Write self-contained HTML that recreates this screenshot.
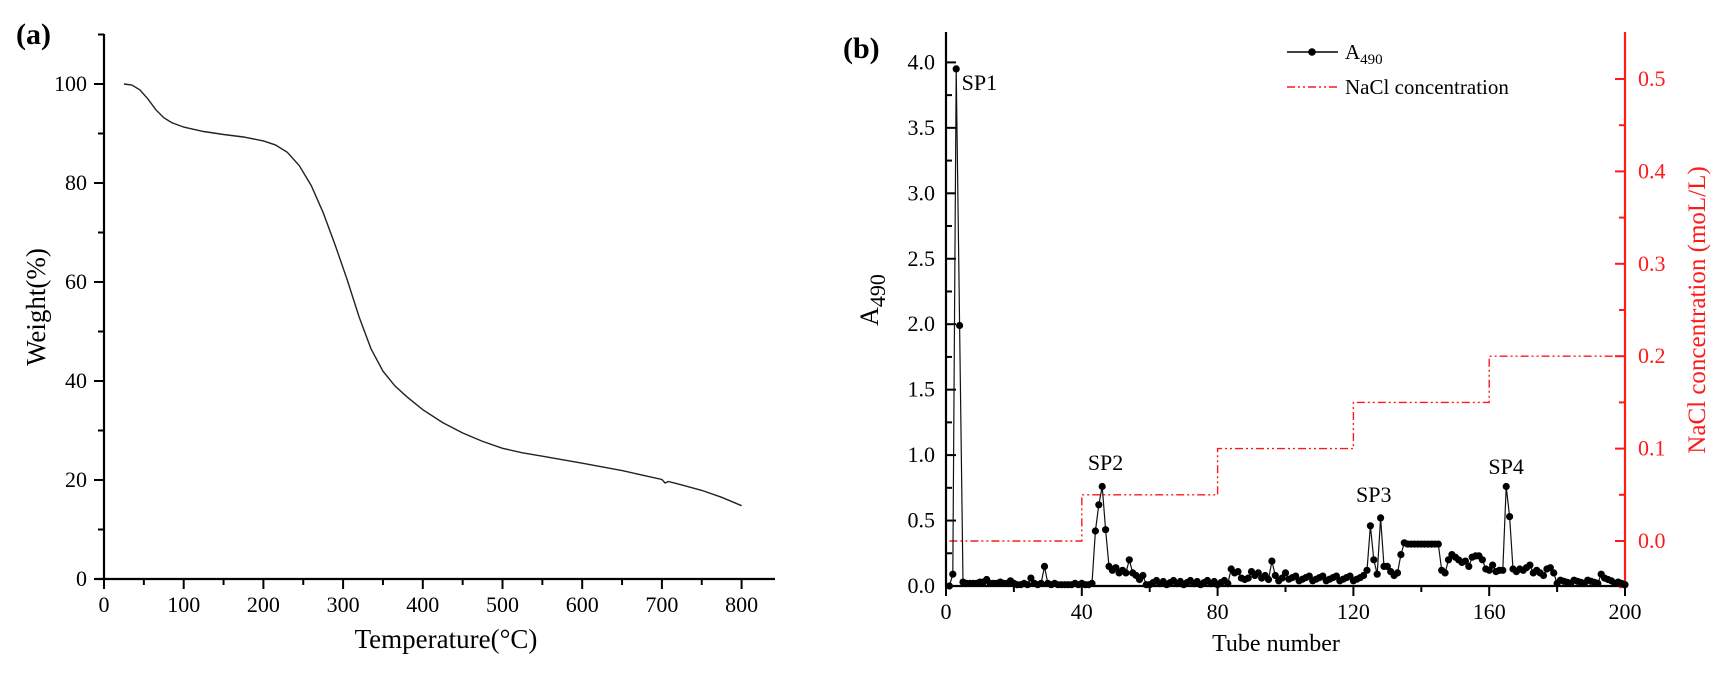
<!DOCTYPE html>
<html><head><meta charset="utf-8"><style>
html,body{margin:0;padding:0;background:#fff;}
svg{display:block;font-family:"Liberation Serif",serif;}
</style></head><body>
<svg id="s" width="1725" height="674" viewBox="0 0 1725 674" xmlns="http://www.w3.org/2000/svg">
<text x="16" y="44" font-size="30" font-weight="bold">(a)</text>
<text x="843" y="58" font-size="30" font-weight="bold">(b)</text>
<g id="a"></g><g id="b"></g>
</svg>
<script>
const NS="http://www.w3.org/2000/svg";
function el(p,t,a,txt){const e=document.createElementNS(NS,t);for(const k in a)e.setAttribute(k,a[k]);if(txt!==undefined)e.textContent=txt;p.appendChild(e);return e;}
// Panel a
const A=document.getElementById('a');
const ax=t=>104+t*0.797, ay=w=>579-w*4.95;
el(A,'line',{x1:104,y1:34,x2:104,y2:580,stroke:'#000','stroke-width':2.2});
el(A,'line',{x1:95,y1:579,x2:775,y2:579,stroke:'#000','stroke-width':2.2});
for(let t=0;t<=800;t+=50){const x=ax(t);const maj=t%100==0;el(A,'line',{x1:x,y1:579,x2:x,y2:maj?589:585,stroke:'#000','stroke-width':2});if(maj)el(A,'text',{x:x,y:612,'font-size':22,'text-anchor':'middle'},t);}
for(let w=0;w<=110;w+=10){const y=ay(w);const maj=w%20==0;el(A,'line',{x1:104,y1:y,x2:maj?94:98,y2:y,stroke:'#000','stroke-width':2});if(maj)el(A,'text',{x:87,y:y+7,'font-size':22,'text-anchor':'end'},w);}
el(A,'text',{x:446,y:648,'font-size':27,'text-anchor':'middle'},'Temperature(°C)');
el(A,'text',{x:0,y:0,'font-size':27,'text-anchor':'middle',transform:'translate(45,307) rotate(-90)'},'Weight(%)');
const tg=[[25,100],[35,99.8],[45,98.8],[55,97],[65,94.8],[75,93.2],[85,92.2],[100,91.3],[125,90.4],[150,89.8],[175,89.3],[200,88.5],[215,87.7],[230,86.2],[245,83.5],[260,79.5],[275,74],[290,67.5],[305,60.5],[320,53],[335,46.5],[350,42],[365,39],[380,36.8],[400,34.2],[425,31.6],[450,29.5],[475,27.8],[500,26.4],[525,25.5],[550,24.8],[600,23.4],[650,21.9],[700,20.1],[704,19.4],[708,19.7],[725,19],[750,17.9],[775,16.5],[800,14.8]];
el(A,'path',{d:'M'+tg.map(p=>ax(p[0]).toFixed(1)+','+ay(p[1]).toFixed(1)).join('L'),fill:'none',stroke:'#222','stroke-width':1.4});
// Panel b
const B=document.getElementById('b');
const bx=t=>946+t*3.395, by=v=>586-v*130.9, ry=c=>541-c*924;
const red='#ff1a1a';
el(B,'line',{x1:946,y1:32,x2:946,y2:587,stroke:'#000','stroke-width':2.2});
el(B,'line',{x1:945,y1:586,x2:1626,y2:586,stroke:'#000','stroke-width':2.2});
el(B,'line',{x1:1625,y1:32,x2:1625,y2:587,stroke:red,'stroke-width':2.2});
for(let t=0;t<=200;t+=20){const x=bx(t);const maj=t%40==0;el(B,'line',{x1:x,y1:586,x2:x,y2:maj?596:592,stroke:'#000','stroke-width':2});if(maj)el(B,'text',{x:x,y:619,'font-size':22,'text-anchor':'middle'},t);}
for(let v=0;v<=4.2;v+=0.25){const y=by(v);const maj=Math.abs(v*2-Math.round(v*2))<1e-6;el(B,'line',{x1:946,y1:y,x2:maj?956:952,y2:y,stroke:'#000','stroke-width':2});if(maj)el(B,'text',{x:935,y:y+7,'font-size':22,'text-anchor':'end'},v.toFixed(1));}
for(let i=-1;i<=10;i++){const c=i*0.05;const y=ry(c);if(y<33)continue;const maj=i%2==0;el(B,'line',{x1:1625,y1:y,x2:maj?1615:1619,y2:y,stroke:red,'stroke-width':2});if(maj)el(B,'text',{x:1638,y:y+7,'font-size':22,fill:red},c.toFixed(1));}
el(B,'text',{x:1276,y:651,'font-size':24,'text-anchor':'middle'},'Tube number');
const al=el(B,'text',{x:0,y:0,'font-size':26,'text-anchor':'middle',transform:'translate(878,300) rotate(-90)'},'A');
el(al,'tspan',{'font-size':22,dy:7},'490');
el(B,'text',{x:0,y:0,'font-size':25,'text-anchor':'middle',fill:red,transform:'translate(1705,310) rotate(-90)'},'NaCl concentration (moL/L)');
// NaCl steps
const st=[[1,0],[40,0],[40,0.05],[80,0.05],[80,0.1],[120,0.1],[120,0.15],[160,0.15],[160,0.2],[200,0.2]];
el(B,'path',{d:'M'+st.map(p=>bx(p[0]).toFixed(1)+','+ry(p[1]).toFixed(1)).join('L'),fill:'none',stroke:red,'stroke-width':1.4,'stroke-dasharray':'8,3,2,3,2,3'});
// A490 data
const d={1:0,2:0.09,3:3.95,4:1.99,5:0.03,6:0.02,7:0.02,8:0.02,9:0.02,10:0.03,11:0.03,12:0.05,13:0.02,14:0.02,15:0.02,16:0.03,17:0.02,18:0.02,19:0.04,20:0.02,21:0.01,22:0.01,23:0.02,24:0.01,25:0.06,26:0.02,27:0.01,28:0.02,29:0.15,30:0.02,31:0.01,32:0.02,33:0.01,34:0.01,35:0.01,36:0.01,37:0.01,38:0.02,39:0.01,40:0.02,41:0.01,42:0.01,43:0.02,44:0.42,45:0.62,46:0.76,47:0.43,48:0.15,49:0.12,50:0.14,51:0.1,52:0.12,53:0.1,54:0.2,55:0.1,56:0.08,57:0.05,58:0.08,59:0.01};
for(let t=60;t<=83;t++)d[t]=0.01+((t*7)%5)*0.008;
Object.assign(d,{84:0.13,85:0.1,86:0.11,87:0.06,88:0.05,89:0.06,90:0.11,91:0.08,92:0.1,93:0.06,94:0.08,95:0.05,96:0.19,97:0.08,98:0.04,99:0.06,100:0.1});
for(let t=101;t<=122;t++)d[t]=0.04+((t*5)%4)*0.012;
Object.assign(d,{123:0.08,124:0.12,125:0.46,126:0.2,127:0.09,128:0.52,129:0.15,130:0.15,131:0.11,132:0.08,133:0.1,134:0.24,135:0.33});
for(let t=136;t<=145;t++)d[t]=0.32+((t*3)%3)*0.008;
Object.assign(d,{146:0.12,147:0.1,148:0.2,149:0.24,150:0.22,151:0.2,152:0.18,153:0.19,154:0.15,155:0.22,156:0.23,157:0.23,158:0.2,159:0.13,160:0.12,161:0.16,162:0.11,163:0.12,164:0.12,165:0.76,166:0.53,167:0.13,168:0.11,169:0.13,170:0.12,171:0.14,172:0.16,173:0.1,174:0.12,175:0.1,176:0.08,177:0.13,178:0.14,179:0.1,180:0.02});
for(let t=181;t<=192;t++)d[t]=0.02+((t*3)%4)*0.008;
Object.assign(d,{193:0.09,194:0.06,195:0.05,196:0.04,197:0.02,198:0.03,199:0.02,200:0.01});
let pth='';const pts=[];
for(let t=1;t<=200;t++){const x=bx(t),y=by(d[t]);pth+=(t==1?'M':'L')+x.toFixed(1)+','+y.toFixed(1);pts.push([x,y]);}
el(B,'path',{d:pth,fill:'none',stroke:'#111','stroke-width':1.2});
pts.forEach(p=>el(B,'circle',{cx:p[0].toFixed(1),cy:p[1].toFixed(1),r:3.6,fill:'#000'}));
el(B,'text',{x:bx(4.6),y:90,'font-size':22},'SP1');
el(B,'text',{x:bx(47),y:470,'font-size':22,'text-anchor':'middle'},'SP2');
el(B,'text',{x:bx(126),y:502,'font-size':22,'text-anchor':'middle'},'SP3');
el(B,'text',{x:bx(165),y:474,'font-size':22,'text-anchor':'middle'},'SP4');
// legend
el(B,'line',{x1:1287,y1:52,x2:1338,y2:52,stroke:'#000','stroke-width':1.4});
el(B,'circle',{cx:1312,cy:52,r:3.8,fill:'#000'});
const lt=el(B,'text',{x:1345,y:59,'font-size':21},'A');
el(lt,'tspan',{'font-size':15,dy:5},'490');
el(B,'line',{x1:1287,y1:87,x2:1338,y2:87,stroke:red,'stroke-width':1.4,'stroke-dasharray':'8,3,2,3,2,3'});
el(B,'text',{x:1345,y:94,'font-size':21},'NaCl concentration');
</script>
</body></html>
